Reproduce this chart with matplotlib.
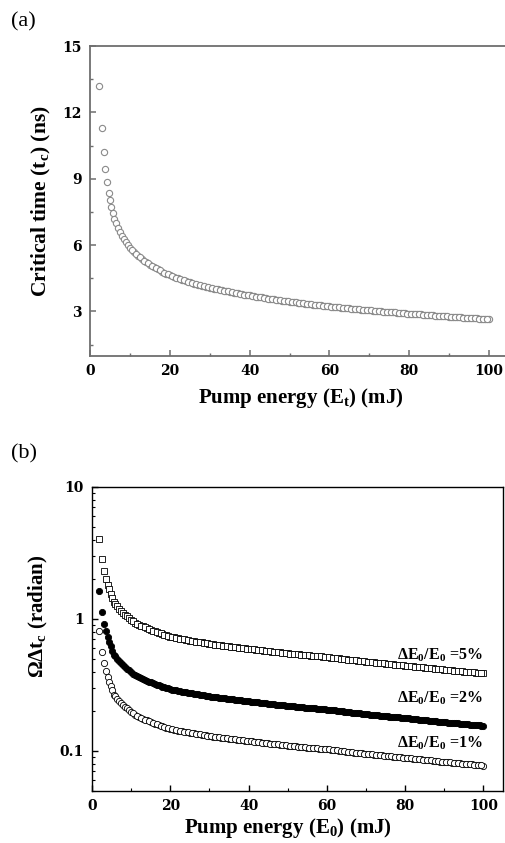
import matplotlib
matplotlib.use('Agg')
import matplotlib.pyplot as plt
from matplotlib.ticker import MultipleLocator, NullFormatter, FuncFormatter, LogLocator

# --- datos (a): tiempo critico vs energia de bombeo ---
energia_a = [2.3, 2.9, 3.4, 3.85, 4.25, 4.7, 5.0, 5.35, 5.7, 6.1,
             6.5, 7, 7.5, 8, 8.5, 9, 9.5, 10,
             11, 12, 13, 14, 15, 16, 17, 18, 19, 20,
             21, 22, 23, 24, 25, 26, 27, 28, 29, 30,
             31, 32, 33, 34, 35, 36, 37, 38, 39, 40,
             41, 42, 43, 44, 45, 46, 47, 48, 49, 50,
             51, 52, 53, 54, 55, 56, 57, 58, 59, 60,
             61, 62, 63, 64, 65, 66, 67, 68, 69, 70,
             71, 72, 73, 74, 75, 76, 77, 78, 79, 80,
             81, 82, 83, 84, 85, 86, 87, 88, 89, 90,
             91, 92, 93, 94, 95, 96, 97, 98, 99, 100]
tiempo_critico = [13.19, 11.31, 10.19, 9.44, 8.84, 8.36, 8.03, 7.73, 7.46, 7.16,
                  6.98, 6.78, 6.59, 6.42, 6.27, 6.13, 6.00, 5.88,
                  5.69, 5.52, 5.37, 5.24, 5.11, 5.00, 4.90, 4.80, 4.71, 4.63,
                  4.56, 4.49, 4.43, 4.37, 4.31, 4.26, 4.21, 4.16, 4.12, 4.07,
                  4.03, 3.99, 3.95, 3.92, 3.88, 3.85, 3.81, 3.78, 3.75, 3.72,
                  3.69, 3.66, 3.63, 3.60, 3.57, 3.54, 3.52, 3.49, 3.47, 3.44,
                  3.42, 3.40, 3.37, 3.35, 3.33, 3.31, 3.29, 3.27, 3.25, 3.23,
                  3.21, 3.19, 3.17, 3.15, 3.13, 3.12, 3.10, 3.08, 3.06, 3.05,
                  3.03, 3.02, 3.00, 2.99, 2.97, 2.96, 2.94, 2.93, 2.91, 2.90,
                  2.89, 2.87, 2.86, 2.84, 2.83, 2.82, 2.80, 2.79, 2.78, 2.76,
                  2.75, 2.74, 2.73, 2.71, 2.70, 2.69, 2.68, 2.67, 2.66, 2.65]

# puntos intermedios (cada 0.5 mJ) de la parte larga de las curvas
energia_medios = [10.5, 11.5, 12.5, 13.5, 14.5, 15.5, 16.5, 17.5, 18.5, 19.5,
                  20.5, 21.5, 22.5, 23.5, 24.5, 25.5, 26.5, 27.5, 28.5, 29.5,
                  30.5, 31.5, 32.5, 33.5, 34.5, 35.5, 36.5, 37.5, 38.5, 39.5,
                  40.5, 41.5, 42.5, 43.5, 44.5, 45.5, 46.5, 47.5, 48.5, 49.5,
                  50.5, 51.5, 52.5, 53.5, 54.5, 55.5, 56.5, 57.5, 58.5, 59.5,
                  60.5, 61.5, 62.5, 63.5, 64.5, 65.5, 66.5, 67.5, 68.5, 69.5,
                  70.5, 71.5, 72.5, 73.5, 74.5, 75.5, 76.5, 77.5, 78.5, 79.5,
                  80.5, 81.5, 82.5, 83.5, 84.5, 85.5, 86.5, 87.5, 88.5, 89.5,
                  90.5, 91.5, 92.5, 93.5, 94.5, 95.5, 96.5, 97.5, 98.5, 99.5]
tiempo_critico_medios = [5.78, 5.60, 5.44, 5.30, 5.17, 5.05, 4.95, 4.85, 4.75, 4.67,
                         4.59, 4.52, 4.46, 4.40, 4.34, 4.28, 4.23, 4.18, 4.14, 4.09,
                         4.05, 4.01, 3.97, 3.93, 3.90, 3.86, 3.83, 3.79, 3.76, 3.73,
                         3.70, 3.67, 3.64, 3.61, 3.58, 3.55, 3.53, 3.50, 3.48, 3.45,
                         3.43, 3.41, 3.38, 3.36, 3.34, 3.32, 3.30, 3.28, 3.26, 3.24,
                         3.22, 3.20, 3.18, 3.16, 3.14, 3.12, 3.11, 3.09, 3.07, 3.05,
                         3.04, 3.02, 3.01, 2.99, 2.98, 2.96, 2.95, 2.93, 2.92, 2.90,
                         2.89, 2.88, 2.86, 2.85, 2.83, 2.82, 2.81, 2.79, 2.78, 2.77,
                         2.75, 2.74, 2.73, 2.72, 2.70, 2.69, 2.68, 2.67, 2.66, 2.655]

# --- datos (b): Omega*Delta t_c para tres valores de dE0/E0 ---
energia_b = [1.8, 2.65, 3.15, 3.55, 4.0, 4.35, 4.75, 5.2, 5.7,
             6, 6.5, 7, 7.5, 8, 8.5, 9, 9.5, 10,
             11, 12, 13, 14, 15, 16, 17, 18, 19, 20,
             21, 22, 23, 24, 25, 26, 27, 28, 29, 30,
             31, 32, 33, 34, 35, 36, 37, 38, 39, 40,
             41, 42, 43, 44, 45, 46, 47, 48, 49, 50,
             51, 52, 53, 54, 55, 56, 57, 58, 59, 60,
             61, 62, 63, 64, 65, 66, 67, 68, 69, 70,
             71, 72, 73, 74, 75, 76, 77, 78, 79, 80,
             81, 82, 83, 84, 85, 86, 87, 88, 89, 90,
             91, 92, 93, 94, 95, 96, 97, 98, 99, 100]
fase_1 = [0.81, 0.566, 0.462, 0.405, 0.365, 0.336, 0.31, 0.288, 0.267,
          0.260, 0.249, 0.239, 0.231, 0.223, 0.216, 0.210, 0.204, 0.198,
          0.188, 0.1814, 0.1756, 0.1703, 0.1655, 0.1612, 0.1573, 0.1536, 0.1503, 0.1471,
          0.1448, 0.1428, 0.1409, 0.1390, 0.1373, 0.1357, 0.1341, 0.1327, 0.1313, 0.1299,
          0.1286, 0.1274, 0.1262, 0.1250, 0.1239, 0.1229, 0.1219, 0.1209, 0.1199, 0.1190,
          0.1180, 0.1170, 0.1160, 0.1150, 0.1141, 0.1132, 0.1124, 0.1115, 0.1107, 0.1099,
          0.1091, 0.1084, 0.1077, 0.1069, 0.1062, 0.1056, 0.1049, 0.1043, 0.1036, 0.1030,
          0.1021, 0.1013, 0.1004, 0.0996, 0.0988, 0.0981, 0.0973, 0.0966, 0.0958, 0.0951,
          0.0944, 0.0938, 0.0931, 0.0924, 0.0918, 0.0912, 0.0906, 0.0900, 0.0894, 0.0888,
          0.0881, 0.0875, 0.0868, 0.0862, 0.0856, 0.0850, 0.0844, 0.0838, 0.0832, 0.0826,
          0.0821, 0.0815, 0.0810, 0.0805, 0.0800, 0.0795, 0.0790, 0.0785, 0.0780, 0.0775]
fase_2 = [1.62, 1.132, 0.924, 0.81, 0.73, 0.672, 0.62, 0.576, 0.534,
          0.520, 0.498, 0.478, 0.462, 0.446, 0.432, 0.420, 0.408, 0.396,
          0.376, 0.3628, 0.3512, 0.3406, 0.331, 0.3224, 0.3146, 0.3072, 0.3006, 0.2942,
          0.2896, 0.2856, 0.2818, 0.2780, 0.2746, 0.2714, 0.2682, 0.2654, 0.2626, 0.2598,
          0.2572, 0.2548, 0.2524, 0.2500, 0.2478, 0.2458, 0.2438, 0.2418, 0.2398, 0.2380,
          0.2360, 0.2340, 0.2320, 0.2300, 0.2282, 0.2264, 0.2248, 0.2230, 0.2214, 0.2198,
          0.2182, 0.2168, 0.2154, 0.2138, 0.2124, 0.2112, 0.2098, 0.2086, 0.2072, 0.2060,
          0.2042, 0.2026, 0.2008, 0.1992, 0.1976, 0.1962, 0.1946, 0.1932, 0.1916, 0.1902,
          0.1888, 0.1876, 0.1862, 0.1848, 0.1836, 0.1824, 0.1812, 0.1800, 0.1788, 0.1776,
          0.1762, 0.1750, 0.1736, 0.1724, 0.1712, 0.1700, 0.1688, 0.1676, 0.1664, 0.1652,
          0.1642, 0.1630, 0.1620, 0.1610, 0.1600, 0.1590, 0.1580, 0.1570, 0.1560, 0.1550]
fase_5 = [4.05, 2.83, 2.31, 2.025, 1.825, 1.68, 1.55, 1.44, 1.335,
          1.30, 1.245, 1.195, 1.155, 1.115, 1.08, 1.05, 1.02, 0.99,
          0.940, 0.907, 0.878, 0.8515, 0.8275, 0.806, 0.7865, 0.768, 0.7515, 0.7355,
          0.724, 0.714, 0.7045, 0.695, 0.6865, 0.6785, 0.6705, 0.6635, 0.6565, 0.6495,
          0.643, 0.637, 0.631, 0.625, 0.6195, 0.6145, 0.6095, 0.6045, 0.5995, 0.595,
          0.590, 0.585, 0.580, 0.575, 0.5705, 0.566, 0.562, 0.5575, 0.5535, 0.5495,
          0.5455, 0.542, 0.5385, 0.5345, 0.531, 0.528, 0.5245, 0.5215, 0.518, 0.515,
          0.5105, 0.5065, 0.502, 0.498, 0.494, 0.4905, 0.4865, 0.483, 0.479, 0.4755,
          0.472, 0.469, 0.4655, 0.462, 0.459, 0.456, 0.453, 0.450, 0.447, 0.444,
          0.4405, 0.4375, 0.434, 0.431, 0.428, 0.425, 0.422, 0.419, 0.416, 0.413,
          0.4105, 0.4075, 0.405, 0.4025, 0.400, 0.3975, 0.395, 0.3925, 0.390, 0.3875]
fase_1_medios = [0.193, 0.1847, 0.1785, 0.1730, 0.1679, 0.1634, 0.1593, 0.1555, 0.1520, 0.1487,
                 0.1460, 0.1438, 0.1419, 0.1400, 0.1382, 0.1365, 0.1349, 0.1334, 0.1320, 0.1306,
                 0.1293, 0.1280, 0.1268, 0.1256, 0.1245, 0.1234, 0.1224, 0.1214, 0.1204, 0.1195,
                 0.1185, 0.1175, 0.1165, 0.1155, 0.1146, 0.1137, 0.1128, 0.1120, 0.1111, 0.1103,
                 0.1095, 0.1088, 0.1081, 0.1073, 0.1066, 0.1059, 0.1053, 0.1046, 0.1040, 0.1033,
                 0.1026, 0.1017, 0.1009, 0.1000, 0.0992, 0.0985, 0.0977, 0.0970, 0.0962, 0.0955,
                 0.0948, 0.0941, 0.0935, 0.0928, 0.0921, 0.0915, 0.0909, 0.0903, 0.0897, 0.0891,
                 0.0885, 0.0878, 0.0872, 0.0865, 0.0859, 0.0853, 0.0847, 0.0841, 0.0835, 0.0829,
                 0.0824, 0.0818, 0.0813, 0.0808, 0.0803, 0.0798, 0.0793, 0.0788, 0.0783, 0.0778]
fase_2_medios = [0.386, 0.3694, 0.3570, 0.3460, 0.3358, 0.3268, 0.3186, 0.3110, 0.3040, 0.2974,
                 0.2920, 0.2876, 0.2838, 0.2800, 0.2764, 0.2730, 0.2698, 0.2668, 0.2640, 0.2612,
                 0.2586, 0.2560, 0.2536, 0.2512, 0.2490, 0.2468, 0.2448, 0.2428, 0.2408, 0.2390,
                 0.2370, 0.2350, 0.2330, 0.2310, 0.2292, 0.2274, 0.2256, 0.2240, 0.2222, 0.2206,
                 0.2190, 0.2176, 0.2162, 0.2146, 0.2132, 0.2118, 0.2106, 0.2092, 0.2080, 0.2066,
                 0.2052, 0.2034, 0.2018, 0.2000, 0.1984, 0.1970, 0.1954, 0.1940, 0.1924, 0.1910,
                 0.1896, 0.1882, 0.1870, 0.1856, 0.1842, 0.1830, 0.1818, 0.1806, 0.1794, 0.1782,
                 0.1770, 0.1756, 0.1744, 0.1730, 0.1718, 0.1706, 0.1694, 0.1682, 0.1670, 0.1658,
                 0.1648, 0.1636, 0.1626, 0.1616, 0.1606, 0.1596, 0.1586, 0.1576, 0.1566, 0.1556]
fase_5_medios = [0.965, 0.9235, 0.8925, 0.865, 0.8395, 0.817, 0.7965, 0.7775, 0.760, 0.7435,
                 0.730, 0.719, 0.7095, 0.700, 0.691, 0.6825, 0.6745, 0.667, 0.660, 0.653,
                 0.6465, 0.640, 0.634, 0.628, 0.6225, 0.617, 0.612, 0.607, 0.602, 0.5975,
                 0.5925, 0.5875, 0.5825, 0.5775, 0.573, 0.5685, 0.564, 0.560, 0.5555, 0.5515,
                 0.5475, 0.544, 0.5405, 0.5365, 0.533, 0.5295, 0.5265, 0.523, 0.520, 0.5165,
                 0.513, 0.5085, 0.5045, 0.500, 0.496, 0.4925, 0.4885, 0.485, 0.481, 0.4775,
                 0.474, 0.4705, 0.4675, 0.464, 0.4605, 0.4575, 0.4545, 0.4515, 0.4485, 0.4455,
                 0.4425, 0.439, 0.436, 0.4325, 0.4295, 0.4265, 0.4235, 0.4205, 0.4175, 0.4145,
                 0.412, 0.409, 0.4065, 0.404, 0.4015, 0.399, 0.3965, 0.394, 0.3915, 0.389]
etiquetas_b = [r'$\Delta$E$_0$/E$_0$ =5%', r'$\Delta$E$_0$/E$_0$ =2%', r'$\Delta$E$_0$/E$_0$ =1%']

plt.rcParams['font.family'] = 'Liberation Serif'
plt.rcParams['font.weight'] = 'bold'
plt.rcParams['mathtext.fontset'] = 'custom'
plt.rcParams['mathtext.rm'] = 'Liberation Serif:bold'
plt.rcParams['mathtext.it'] = 'Liberation Serif:bold'
plt.rcParams['mathtext.bf'] = 'Liberation Serif:bold'

fig = plt.figure(figsize=(5.05, 8.43), dpi=100)

# Grafica (a)
gris = '#6e6e6e'
ax1 = fig.add_axes([90 / 505, (843 - 355.6) / 843, 415 / 505, 309.6 / 843])
estilo_a = dict(ls='none', marker='o', mfc='white', mec='#8a8a8a', ms=4.5, mew=0.8)
ax1.plot(energia_a, tiempo_critico, **estilo_a)
ax1.plot(energia_medios, tiempo_critico_medios, **estilo_a)
ax1.set_xlim(0, 104)
ax1.set_ylim(1, 15)
ax1.xaxis.set_major_locator(MultipleLocator(20))
ax1.xaxis.set_minor_locator(MultipleLocator(10))
ax1.yaxis.set_major_locator(MultipleLocator(3))
ax1.yaxis.set_minor_locator(MultipleLocator(1.5))
for s in ax1.spines.values():
    s.set_color(gris)
    s.set_linewidth(1.3)
ax1.spines['right'].set_visible(False)
ax1.tick_params(which='both', direction='in', color=gris, top=False, right=False)
ax1.tick_params(which='major', length=4, width=1.1, pad=6)
ax1.tick_params(which='minor', length=2.5, width=1.0)
for lab in ax1.get_xticklabels() + ax1.get_yticklabels():
    lab.set_fontfamily('DejaVu Serif')
    lab.set_fontweight('bold')
    lab.set_fontsize(10)
ax1.set_xlabel('Pump energy (E$_\\mathrm{t}$) (mJ)', fontsize=15, fontweight='bold', va='center')
ax1.set_ylabel('Critical time (t$_\\mathrm{c}$) (ns)', fontsize=15.5, fontweight='bold', va='center')
ax1.xaxis.set_label_coords(0.508, -0.137)
ax1.yaxis.set_label_coords(-0.116, 0.5)
fig.text(11 / 505, 1 - 22 / 843, '(a)', fontsize=16, fontweight='normal', va='center')

# Grafica (b)
ax2 = fig.add_axes([92 / 505, (843 - 790.7) / 843, 411 / 505, 303.7 / 843])
cuadro = dict(ls='none', marker='s', mfc='white', mec='black', ms=3.7, mew=0.6)
lleno = dict(ls='none', marker='o', mfc='black', mec='black', ms=4.5, mew=0.6)
hueco = dict(ls='none', marker='o', mfc='white', mec='black', ms=4.5, mew=0.6)
ax2.plot(energia_b, fase_5, **cuadro)
ax2.plot(energia_medios, fase_5_medios, **cuadro)
ax2.plot(energia_b, fase_2, **lleno)
ax2.plot(energia_medios, fase_2_medios, **lleno)
ax2.plot(energia_b, fase_1, **hueco)
ax2.plot(energia_medios, fase_1_medios, **hueco)
ax2.set_yscale('log')
ax2.set_xlim(0, 105)
ax2.set_ylim(0.05, 10)
ax2.xaxis.set_major_locator(MultipleLocator(20))
ax2.xaxis.set_minor_locator(MultipleLocator(10))
ax2.yaxis.set_major_locator(LogLocator(base=10))
ax2.yaxis.set_minor_locator(LogLocator(base=10, subs=range(2, 10)))
ax2.yaxis.set_minor_formatter(NullFormatter())
ax2.yaxis.set_major_formatter(FuncFormatter(lambda v, p: '%g' % v))
for s in ax2.spines.values():
    s.set_linewidth(1.0)
ax2.tick_params(which='both', direction='in', top=False, right=False)
ax2.tick_params(which='major', length=4, width=1.0, pad=6)
ax2.tick_params(which='minor', length=2.5, width=0.8)
for lab in ax2.get_xticklabels() + ax2.get_yticklabels():
    lab.set_fontfamily('DejaVu Serif')
    lab.set_fontweight('bold')
    lab.set_fontsize(10)
ax2.set_xlabel('Pump energy (E$_\\mathrm{0}$) (mJ)', fontsize=15, fontweight='bold', va='center')
ax2.set_ylabel('$\\Omega\\Delta$t$_\\mathrm{c}$ (radian)', fontsize=15, fontweight='bold', va='center')
ax2.xaxis.set_label_coords(0.476, -0.123)
ax2.yaxis.set_label_coords(-0.131, 0.575)
for texto, yy in zip(etiquetas_b, [0.447, 0.305, 0.157]):
    ax2.text(0.951, yy, texto, transform=ax2.transAxes, ha='right', va='center',
             fontsize=11.5, fontweight='bold')
fig.text(11 / 505, 1 - 454 / 843, '(b)', fontsize=16, fontweight='normal', va='center')

fig.savefig('out.png', dpi=100)
